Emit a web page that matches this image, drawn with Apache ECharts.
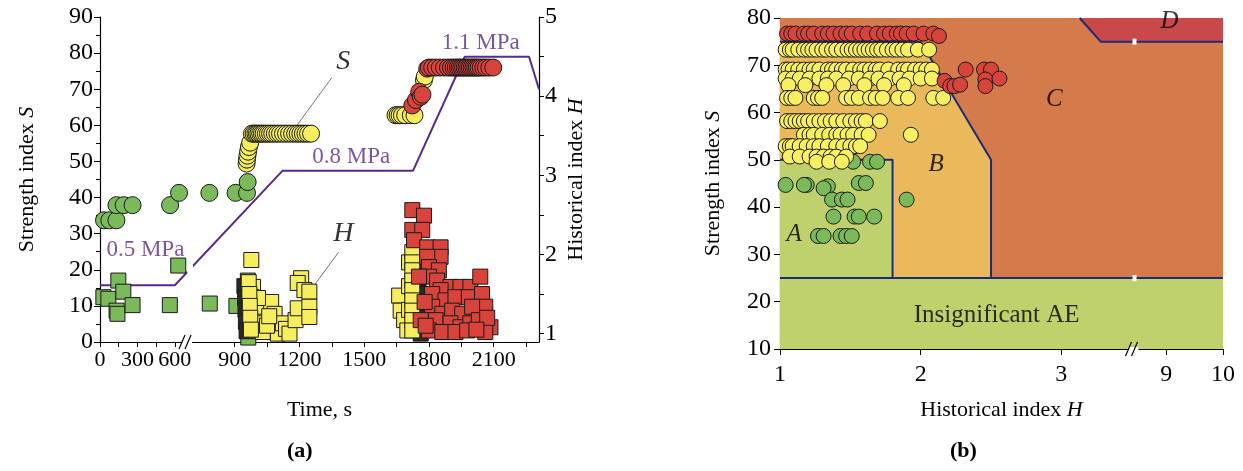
<!DOCTYPE html>
<html>
<head>
<meta charset="utf-8">
<script src="https://cdn.jsdelivr.net/npm/echarts@6/dist/echarts.min.js"></script>
<style>
  html, body { margin: 0; background: #fff; }
  #chart { width: 1243px; height: 471px; }
</style>
</head>
<body>
<div id="chart"></div>
<script>
// ---------- panel (a): time axis ----------
const timeTicks = [0, 300, 600, 900, 1200, 1500, 1800, 2100];
const timeMinor = [0, 150, 300, 450, 600, 900, 1050, 1200, 1350, 1500, 1650, 1800, 1950, 2100, 2250];
const hTicksA = [1, 2, 3, 4, 5];
const hMinorA = [1, 1.5, 2, 2.5, 3, 3.5, 4, 4.5, 5];

// loading pressure (drawn on S scale)
const pressure = [[0, 15.7], [600, 15.7], [1121, 47.4], [1726, 47.4], [1966, 79], [2264, 79], [2310, 70]];
const pressureNotes = [[364, 25.5, '0.5 MPa'], [1440, 51.2, '0.8 MPa'], [2040, 82.7, '1.1 MPa']];

// strength index S (circles)
const sGreen = [[32, 33.7], [75, 33.7], [132, 33.7], [132, 37.9], [190, 37.9], [261, 37.9], [562, 37.9],
  [621, 41.3], [773, 41.3], [904, 41.3], [957, 41.3], [960, 44.3]];
const sYellow = [[955, 49.4], [957, 50.5], [959, 51.6], [962, 52.7], [966, 54], [972, 55.2],
  [980, 57.7], [988, 57.7], [996, 57.7], [1003, 57.7], [1010, 57.7], [1018, 57.7], [1026, 57.7], [1034, 57.7],
  [1044, 57.7], [1054, 57.7], [1064, 57.7], [1074, 57.7], [1086, 57.7], [1098, 57.7], [1110, 57.7], [1124, 57.7],
  [1138, 57.7], [1152, 57.7], [1166, 57.7], [1180, 57.7], [1192, 57.7], [1204, 57.7], [1216, 57.7], [1228, 57.7],
  [1240, 57.7], [1254, 57.7],
  [1645, 62.8], [1655, 62.8], [1664, 62.8], [1675, 62.8], [1690, 62.8], [1716, 62.8], [1733, 62.8],
  [1777, 72.5], [1781, 73.5]];
const sRed = [[1723, 65.5], [1740, 67], [1755, 69.3], [1762, 67.9], [1770, 68.5], [1792, 75.7],
  [1800, 76], [1815, 76], [1832, 76], [1850, 76], [1870, 76], [1888, 76], [1902, 76], [1914, 76], [1924, 76],
  [1934, 76], [1942, 76], [1950, 76], [1958, 76], [1966, 76], [1974, 76], [1982, 76], [1990, 76], [1998, 76],
  [2006, 76], [2014, 76], [2022, 76], [2030, 76], [2040, 76], [2052, 76], [2064, 76], [2080, 76], [2098, 76]];

// historical index H (squares)
const hGreen = [[27, 1.46], [67, 1.44], [147, 1.67], [187, 1.53], [133, 1.29], [140, 1.25], [261, 1.36],
  [560, 1.36], [617, 1.86], [775, 1.38], [908, 1.35], [961, 1.67], [963, 0.95]];
const hYellow = [[977, 1.93], [985, 1.59], [977, 1.46], [992, 1.34], [985, 1.17], [1000, 1.04], [1015, 1.25],
  [1023, 1.13], [1038, 1.34], [1069, 1.4], [1074, 1.17], [1085, 1.25], [1092, 1.08], [1100, 1.0], [1123, 1.13],
  [1138, 1.06], [1154, 1.0], [1182, 1.17], [1192, 1.32], [1208, 1.7], [1192, 1.64], [1223, 1.55], [1246, 1.53],
  [1246, 1.34], [1246, 1.21], [1008, 1.45], [1030, 1.02], [1050, 1.1], [1060, 1.22],
  [965, 1.65], [968, 1.5], [970, 1.35], [972, 1.2], [975, 1.05],
  [1662, 1.48], [1669, 1.29], [1685, 1.17], [1700, 1.04], [1708, 1.9], [1708, 1.6], [1708, 1.3],
  [1723, 2.03], [1723, 1.9], [1723, 1.8], [1723, 1.67], [1723, 1.55], [1723, 1.42], [1723, 1.29], [1723, 1.17], [1723, 1.04]];
const hDense = [[945, 1.6], [948, 1.45], [950, 1.3], [952, 1.15], [955, 1.03],
  [1748, 1.9], [1750, 1.6], [1752, 1.7], [1755, 1.5], [1756, 1.4], [1758, 1.3], [1759, 1.2], [1760, 1.1], [1762, 1.0]];
const hRed = [[1723, 2.56], [1777, 2.49], [1723, 2.31], [1769, 2.31], [1731, 2.18], [1792, 2.09], [1854, 2.09],
  [1854, 1.97], [1792, 1.97], [1800, 1.84], [1846, 1.8], [1800, 1.72], [1838, 1.67], [1900, 1.59], [1946, 1.59],
  [1992, 1.59], [2038, 1.72], [1854, 1.55], [1815, 1.5], [1877, 1.42], [1923, 1.46], [1985, 1.46], [2046, 1.5],
  [2061, 1.34], [1815, 1.34], [1862, 1.25], [1908, 1.29], [1954, 1.25], [2000, 1.34], [1831, 1.17], [1900, 1.13],
  [1946, 1.08], [1992, 1.13], [2031, 1.17], [2085, 1.08], [1800, 1.04], [1862, 1.02], [1923, 1.02], [1977, 1.04],
  [2061, 1.02], [1762, 1.17], [1754, 1.72], [1780, 1.4], [1785, 1.1], [2070, 1.2], [2020, 1.05]];

const leaderS = [[1350, 73.2], [1169, 58.4]];
const leaderH = [[1382, 24.9], [1240, 13.4]];

// ---------- panel (b) ----------
const hTicksB = [1, 2, 3, 9, 10];
const bRed = [[1.05, 76.7], [1.08, 76.7], [1.11, 76.7], [1.17, 76.7], [1.2, 76.7], [1.24, 76.7], [1.3, 76.7],
  [1.34, 76.7], [1.38, 76.7], [1.43, 76.7], [1.47, 76.7], [1.51, 76.7], [1.57, 76.7], [1.62, 76.7], [1.69, 76.7],
  [1.74, 76.7], [1.78, 76.7], [1.83, 76.7], [1.86, 76.7], [1.9, 76.7], [1.95, 76.7], [2.02, 76.7], [2.09, 76.7],
  [2.13, 76.2],
  [2.17, 66.7], [2.21, 65.6], [2.24, 65.6], [2.28, 65.9], [2.32, 69.1], [2.45, 69.1], [2.5, 69.1], [2.46, 67],
  [2.46, 65.6], [2.56, 67.2]];
const bYellow = [
  [1.04, 73.3], [1.07, 73.3], [1.09, 73.3], [1.13, 73.3], [1.17, 73.3], [1.2, 73.3], [1.23, 73.3], [1.26, 73.3],
  [1.3, 73.3], [1.33, 73.3], [1.37, 73.3], [1.4, 73.3], [1.44, 73.3], [1.48, 73.3], [1.51, 73.3], [1.54, 73.3],
  [1.57, 73.3], [1.6, 73.3], [1.63, 73.3], [1.66, 73.3], [1.69, 73.3], [1.72, 73.3], [1.76, 73.3], [1.8, 73.3],
  [1.83, 73.3], [1.87, 73.3], [1.91, 73.3], [1.98, 73.3], [2.06, 73.3],
  [1.04, 69.1], [1.06, 69.1], [1.09, 69.1], [1.13, 69.1], [1.17, 69.1], [1.21, 69.1], [1.24, 69.1], [1.28, 69.1],
  [1.34, 69.1], [1.37, 69.1], [1.4, 69.1], [1.44, 69.1], [1.47, 69.1], [1.52, 69.1], [1.57, 69.1], [1.6, 69.1],
  [1.64, 69.1], [1.68, 69.1], [1.71, 69.1], [1.77, 69.1], [1.84, 69.1], [1.88, 69.1], [1.91, 69.1], [1.96, 69.1],
  [2.0, 69.1], [2.04, 69.1], [2.08, 69.1],
  [1.04, 67.2], [1.09, 67.2], [1.14, 67.2], [1.21, 67.2], [1.28, 67.2], [1.34, 67.2], [1.4, 67.2], [1.49, 67.2],
  [1.56, 67.2], [1.64, 67.2], [1.7, 67.2], [1.78, 67.2], [1.85, 67.2], [1.92, 67.2], [2.0, 67.2], [2.08, 67.2],
  [1.06, 65.8], [1.18, 65.8], [1.33, 65.8], [1.45, 65.8], [1.6, 65.8], [1.74, 65.8], [1.88, 65.8],
  [1.05, 63.1], [1.08, 63.1], [1.11, 63.1], [1.24, 63.1], [1.27, 63.1], [1.3, 63.1], [1.47, 63.1], [1.51, 63.1],
  [1.56, 63.1], [1.64, 63.1], [1.68, 63.1], [1.73, 63.1], [1.84, 63.1], [1.91, 63.1], [2.09, 63.1], [2.16, 63.1],
  [1.05, 58.2], [1.08, 58.2], [1.11, 58.2], [1.14, 58.2], [1.17, 58.2], [1.2, 58.2], [1.24, 58.2], [1.28, 58.2],
  [1.32, 58.2], [1.36, 58.2], [1.4, 58.2], [1.45, 58.2], [1.5, 58.2], [1.54, 58.2], [1.58, 58.2], [1.61, 58.2], [1.71, 58.2],
  [1.17, 55.3], [1.21, 55.3], [1.24, 55.3], [1.3, 55.3], [1.35, 55.3], [1.4, 55.3], [1.43, 55.3], [1.48, 55.3],
  [1.52, 55.3], [1.58, 55.3], [1.63, 55.3], [1.93, 55.3],
  [1.04, 52.9], [1.07, 52.9], [1.09, 52.9], [1.14, 52.9], [1.19, 52.9], [1.24, 52.9], [1.28, 52.9], [1.34, 52.9],
  [1.4, 52.9], [1.45, 52.9], [1.5, 52.9], [1.54, 52.9], [1.57, 52.9],
  [1.07, 50.7], [1.14, 50.7], [1.21, 50.7], [1.26, 50.7], [1.31, 50.7], [1.36, 50.7], [1.4, 50.7], [1.47, 50.7],
  [1.26, 49.6], [1.35, 49.6], [1.44, 49.6]];
const bGreen = [[1.52, 49.6], [1.64, 49.6], [1.69, 49.6],
  [1.04, 44.7], [1.19, 44.7], [1.17, 44.7], [1.34, 44.4], [1.31, 44], [1.56, 45.1], [1.61, 45.1],
  [1.37, 41.6], [1.44, 41.6], [1.48, 41.6], [1.9, 41.6],
  [1.38, 38], [1.53, 38], [1.56, 38], [1.67, 38],
  [1.27, 33.9], [1.31, 33.9], [1.43, 33.9], [1.47, 33.9], [1.51, 33.9]];

const zoneInsig = [[1, 10], [10, 10], [10, 25], [1, 25]];
const zoneA = [[1, 25], [1.8, 25], [1.8, 50], [1, 50]];
const zoneB = [[1, 50], [1.8, 50], [1.8, 25], [2.5, 25], [2.5, 50], [2.0, 75], [1, 75]];
const zoneC = [[1, 75], [1, 80], [3.13, 80], [3.28, 75], [10, 75], [10, 25], [2.5, 25], [2.5, 50], [2.0, 75]];
const zoneD = [[3.13, 80], [10, 80], [10, 75], [3.28, 75]];
const lineA = [[1, 50], [1.8, 50], [1.8, 25]];
const lineB = [[1, 75], [2.0, 75], [2.5, 50], [2.5, 25]];
const line25 = [[1, 25], [10, 25]];
const lineD = [[3.13, 80], [3.28, 75], [10, 75]];
const zoneNotes = [[2.54, 17.2, 'Insignificant AE', false], [1.1, 34.2, 'A', true], [2.11, 49, 'B', true],
  [2.95, 62.8, 'C', true], [9.06, 79.3, 'D', true]];

// ---------- broken axes ----------
const timeKnots = [0, 600, 900, 2310];
const timePos = [0, 75, 135, 440];
function tx(t) {
  let i = 1;
  while (i < timeKnots.length - 1 && t > timeKnots[i]) i++;
  const a = timeKnots[i - 1], b = timeKnots[i];
  return timePos[i - 1] + (t - a) * (timePos[i] - timePos[i - 1]) / (b - a);
}
function hx(h) {
  return h <= 4 ? h : 3.745 + (h - 9) * 0.404;
}
const mapA = arr => arr.map(p => [tx(p[0]), p[1]]);
const mapB = arr => arr.map(p => [hx(p[0]), p[1]]);

const FONT = '"Liberation Serif", "DejaVu Serif", serif';
const PURPLE = '#5a2b86';
const NAVY = '#1b2c7c';

function dots(name, data, xi, yi, shape, size, color, z) {
  return {
    name: name, type: 'scatter', xAxisIndex: xi, yAxisIndex: yi, data: data,
    symbol: shape, symbolSize: size, z: z || 5,
    itemStyle: { color: color, borderColor: '#1a1a1a', borderWidth: 1, opacity: 1 }
  };
}

function zone(poly, color) {
  return {
    type: 'custom', xAxisIndex: 1, yAxisIndex: 2, silent: true, z: 1, clip: false,
    data: [[hx(poly[0][0]), poly[0][1]]],
    renderItem: function (params, api) {
      return {
        type: 'polygon',
        shape: { points: poly.map(p => api.coord([hx(p[0]), p[1]])) },
        style: { fill: color }
      };
    }
  };
}

function border(pts) {
  return {
    type: 'line', xAxisIndex: 1, yAxisIndex: 2, data: mapB(pts), symbol: 'none', silent: true, z: 3,
    lineStyle: { color: NAVY, width: 2 }
  };
}

// "//" axis-break mark, plus white gaps cut into lines crossing the break
function breakMark(xi, yi, at, yv, gaps, gw, gh) {
  return {
    type: 'custom', xAxisIndex: xi, yAxisIndex: yi, silent: true, z: 20, clip: false,
    data: [[at, yv]],
    renderItem: function (params, api) {
      const c = api.coord([at, yv]);
      const kids = [
        { type: 'rect', shape: { x: c[0] - 6, y: c[1] - 2, width: 10, height: 4 }, style: { fill: '#fff' } },
        { type: 'line', shape: { x1: c[0] - 9, y1: c[1] + 7, x2: c[0] - 3, y2: c[1] - 7 }, style: { stroke: '#000', lineWidth: 1.2 } },
        { type: 'line', shape: { x1: c[0] - 3, y1: c[1] + 7, x2: c[0] + 3, y2: c[1] - 7 }, style: { stroke: '#000', lineWidth: 1.2 } }
      ];
      (gaps || []).forEach(g => {
        const q = api.coord([g[0], g[1]]);
        kids.push({ type: 'rect', shape: { x: q[0] - gw / 2, y: q[1] - gh / 2, width: gw, height: gh }, style: { fill: '#fff' } });
      });
      return { type: 'group', children: kids };
    }
  };
}

function notes(xi, yi, items, style) {
  return {
    type: 'scatter', xAxisIndex: xi, yAxisIndex: yi, symbolSize: 0, silent: true, z: 30,
    data: items.map(it => ({
      value: [it[0], it[1]],
      label: Object.assign({ show: true, position: 'inside', formatter: it[2], fontFamily: FONT },
        style, it[3] ? { fontStyle: 'italic' } : {})
    }))
  };
}

const axisTxt = { fontFamily: FONT, fontSize: 24, color: '#000' };
const nameTxt = { fontFamily: FONT, fontSize: 22, color: '#000', rich: { i: { fontFamily: FONT, fontSize: 22, fontStyle: 'italic' } } };
const blackLine = { show: true, lineStyle: { color: '#000', width: 1.2 } };

const chart = echarts.init(document.getElementById('chart'), null, { renderer: 'canvas' });
chart.setOption({
  animation: false,
  backgroundColor: '#fff',
  grid: [
    { left: 100, top: 17, width: 439, height: 325 },
    { left: 780, top: 18, width: 443, height: 331 }
  ],
  xAxis: [
    {
      gridIndex: 0, type: 'value', min: 0, max: 440,
      name: 'Time, s', nameLocation: 'middle', nameGap: 57, nameTextStyle: nameTxt,
      axisLine: blackLine, splitLine: { show: false },
      axisTick: { show: true, length: 5, customValues: timeMinor.map(tx), lineStyle: { color: '#000' } },
      axisLabel: {
        customValues: timeTicks.map(tx), margin: 7, ...axisTxt, fontSize: 22,
        formatter: v => { const i = timeTicks.findIndex(t => Math.abs(tx(t) - v) < 1e-6); return i < 0 ? '' : String(timeTicks[i]); }
      }
    },
    {
      gridIndex: 1, type: 'value', min: 1, max: hx(10),
      name: 'Historical index {i|H}', nameLocation: 'middle', nameGap: 50, nameTextStyle: nameTxt,
      axisLine: blackLine, splitLine: { show: false },
      axisTick: { show: true, length: 6, customValues: hTicksB.map(hx), lineStyle: { color: '#000' } },
      axisLabel: {
        customValues: hTicksB.map(hx), margin: 14, ...axisTxt,
        formatter: v => { const i = hTicksB.findIndex(t => Math.abs(hx(t) - v) < 1e-6); return i < 0 ? '' : String(hTicksB[i]); }
      }
    }
  ],
  yAxis: [
    {
      gridIndex: 0, type: 'value', min: 0, max: 90, interval: 10,
      name: 'Strength index {i|S}', nameLocation: 'middle', nameGap: 62, nameRotate: 90, nameTextStyle: nameTxt,
      axisLine: blackLine, splitLine: { show: false },
      axisTick: { show: true, length: 6, lineStyle: { color: '#000' } },
      minorTick: { show: true, splitNumber: 2, length: 4, lineStyle: { color: '#000' } },
      axisLabel: { margin: 7, ...axisTxt }
    },
    {
      gridIndex: 0, type: 'value', position: 'right', min: 0.894, max: 5,
      name: 'Historical index {i|H}', nameLocation: 'middle', nameGap: 26, nameRotate: 90, nameTextStyle: nameTxt,
      axisLine: blackLine, splitLine: { show: false },
      axisTick: { show: true, length: 5, customValues: hMinorA, lineStyle: { color: '#000' } },
      axisLabel: { customValues: hTicksA, margin: 6, ...axisTxt }
    },
    {
      gridIndex: 1, type: 'value', min: 10, max: 80, interval: 10,
      name: 'Strength index {i|S}', nameLocation: 'middle', nameGap: 56, nameRotate: 90, nameTextStyle: nameTxt,
      axisLine: blackLine, splitLine: { show: false },
      axisTick: { show: true, length: 6, lineStyle: { color: '#000' } },
      axisLabel: { margin: 9, ...axisTxt }
    }
  ],
  series: [
    // panel (a)
    {
      type: 'line', xAxisIndex: 0, yAxisIndex: 0, data: mapA(pressure), symbol: 'none', silent: true, z: 2,
      lineStyle: { color: PURPLE, width: 2 }
    },
    { type: 'line', xAxisIndex: 0, yAxisIndex: 0, data: mapA(leaderS), symbol: 'none', silent: true, z: 2, lineStyle: { color: '#777', width: 1 } },
    { type: 'line', xAxisIndex: 0, yAxisIndex: 0, data: mapA(leaderH), symbol: 'none', silent: true, z: 2, lineStyle: { color: '#777', width: 1 } },
    dots('S green', mapA(sGreen), 0, 0, 'circle', 17, '#7bba5b'),
    dots('S yellow', mapA(sYellow), 0, 0, 'circle', 17, '#f6ee5e'),
    dots('S red', mapA(sRed), 0, 0, 'circle', 17, '#d8443b'),
    dots('H green', mapA(hGreen), 0, 1, 'rect', 15, '#7bba5b'),
    dots('H dense', mapA(hDense), 0, 1, 'rect', 15, '#2a2a22'),
    dots('H yellow', mapA(hYellow), 0, 1, 'rect', 15, '#f6ee5e'),
    dots('H red', mapA(hRed), 0, 1, 'rect', 15, '#d8443b'),
    notes(0, 0, pressureNotes.map(n => [tx(n[0]), n[1], n[2]]), { fontSize: 23, color: PURPLE }),
    notes(0, 0, [[tx(1403), 77.6, 'S', true], [tx(1403), 30, 'H', true]], { fontSize: 28, color: '#000' }),
    breakMark(0, 0, tx(666), 0, [[tx(676), 20.3]], 6, 8),
    // panel (b)
    zone(zoneInsig, '#bfd16c'),
    zone(zoneA, '#bfd16c'),
    zone(zoneB, '#e9b95b'),
    zone(zoneC, '#d57a4b'),
    zone(zoneD, '#c9484a'),
    border(line25),
    border(lineA),
    border(lineB),
    border(lineD),
    dots('b green', mapB(bGreen), 1, 2, 'circle', 15, '#7bba5b', 6),
    dots('b yellow', mapB(bYellow), 1, 2, 'circle', 15, '#f8f062', 6),
    dots('b red', mapB(bRed), 1, 2, 'circle', 15, '#d8443b', 6),
    notes(1, 2, zoneNotes.map(n => [hx(n[0]), n[1], n[2], n[3]]), { fontSize: 25, color: '#000' }),
    breakMark(1, 2, 3.52, 10, [[3.52, 25], [3.52, 75]], 4, 6)
  ],
  graphic: [
    { type: 'text', left: 287, top: 440, style: { text: '(a)', font: 'bold 22px "Liberation Serif", serif', fill: '#000' } },
    { type: 'text', left: 950, top: 440, style: { text: '(b)', font: 'bold 22px "Liberation Serif", serif', fill: '#000' } }
  ]
});
</script>
</body>
</html>
